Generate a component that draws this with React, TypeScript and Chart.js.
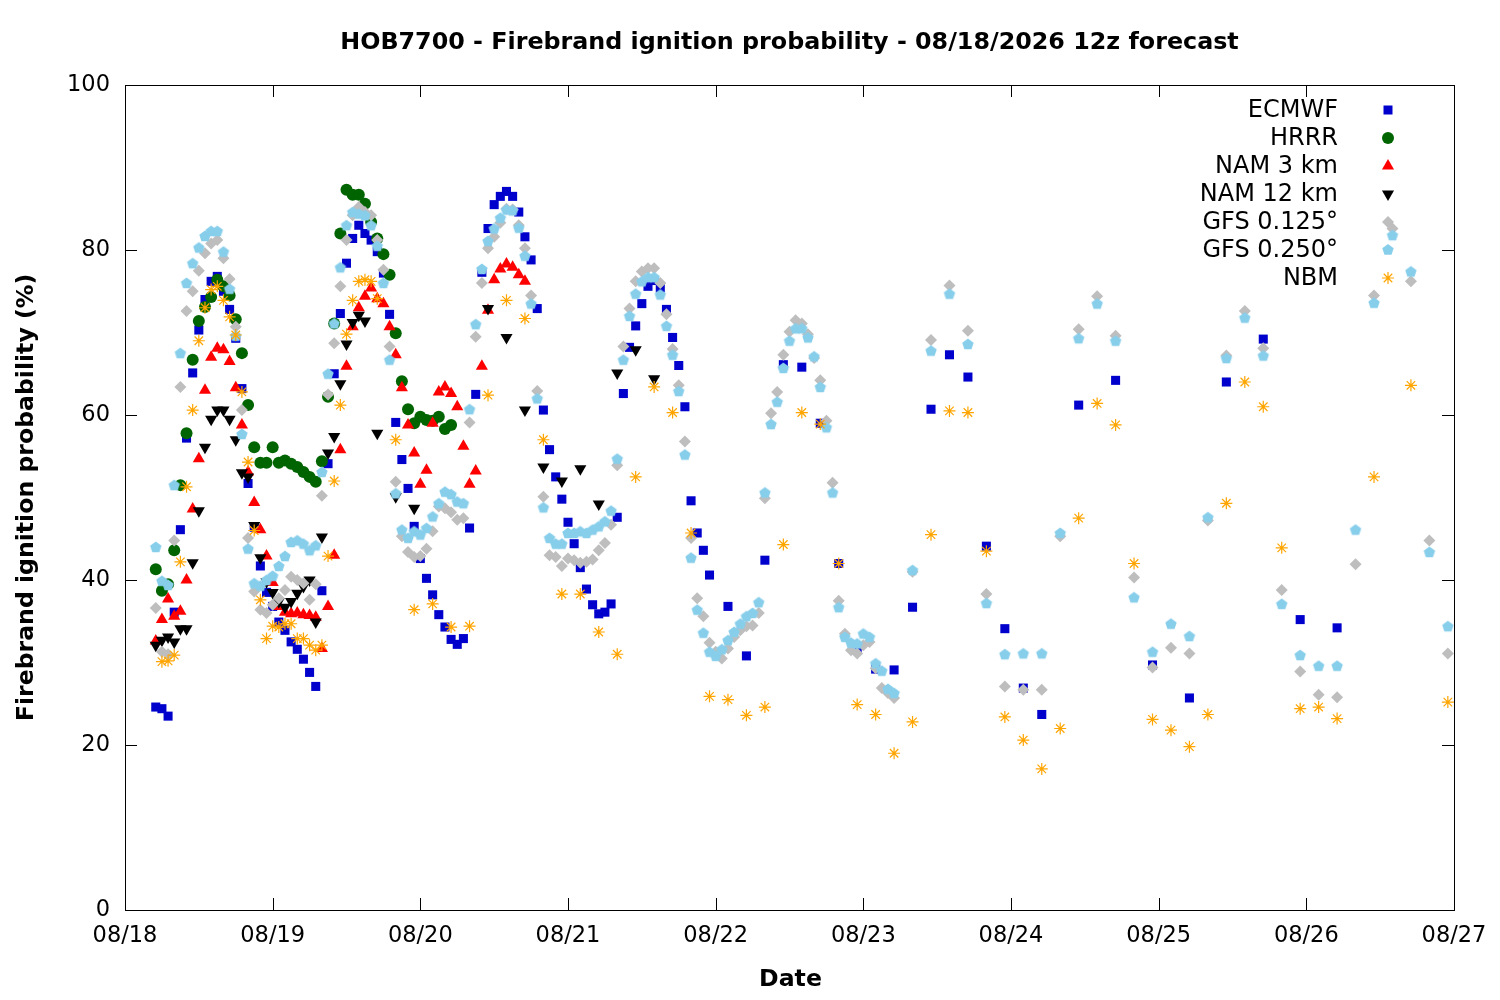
import { useEffect, useRef } from "react";
import Chart from "chart.js/auto";

const DAY_LABELS = ["08/18", "08/19", "08/20", "08/21", "08/22", "08/23", "08/24", "08/25", "08/26", "08/27"];
const Y_TICKS = [0, 20, 40, 60, 80, 100];

// hours since 08/18 00 local time
const ECMWF_HOURS = [
  5, 6, 7, 8, 9, 10, 11, 12, 13, 14, 15, 16, 17, 18, 19, 20, 21, 22, 23, 24,
  25, 26, 27, 28, 29, 30, 31, 32, 33, 34, 35, 36, 37, 38, 39, 40, 41, 42, 43, 44,
  45, 46, 47, 48, 49, 50, 51, 52, 53, 54, 55, 56, 57, 58, 59, 60, 61, 62, 63, 64,
  65, 66, 67, 68, 69, 70, 71, 72, 73, 74, 75, 76, 77, 78, 79, 80, 81, 82, 83, 84,
  85, 86, 87, 88, 89, 90, 91, 92, 93, 94, 95,
  98, 101, 104, 107, 110, 113, 116, 119, 122, 125, 128, 131, 134, 137, 140, 143, 146, 149,
  155, 161, 167, 173, 179, 185, 191, 197,
];
const ECMWF = [
  24.6, 24.4, 23.5, 36.1, 46.1, 57.2, 65.1, 70.3, 74.0, 76.2, 76.8, 75.0, 72.8, 69.3, 63.2, 51.7, 46.4, 41.7, 38.5, 36.8,
  34.9, 33.9, 32.5, 31.6, 30.4, 28.8, 27.1, 38.7, 54.1, 65.0, 72.3, 78.4, 81.4, 83.0, 82.0, 81.2, 79.8, 77.2, 72.2, 59.1,
  54.6, 51.1, 46.5, 42.6, 40.2, 38.2, 35.8, 34.3, 32.8, 32.2, 32.9, 46.3, 62.5, 77.3, 82.6, 85.5, 86.5, 87.1, 86.5, 84.6,
  81.6, 78.8, 72.9, 60.6, 55.8, 52.5, 49.8, 47.0, 44.4, 41.5, 38.9, 37.0, 35.9, 36.1, 37.1, 47.6, 62.6, 68.2, 70.8, 73.5,
  75.6, 76.3, 75.4, 72.8, 69.4, 66.0, 61.0, 49.6, 45.7, 43.6, 40.6,
  36.8, 30.8, 42.4, 66.1, 65.8, 59.0, 42.0, 31.6, 29.2, 29.1, 36.7, 60.7, 67.3, 64.6, 44.1, 34.1, 26.9, 23.7,
  61.2, 64.2, 29.7, 25.7, 64.0, 69.2, 35.2, 34.2,
];

const HRRR_HOURS = [
  5, 6, 7, 8, 9, 10, 11, 12, 13, 14, 15, 16, 17, 18, 19, 20, 21, 22, 23, 24,
  25, 26, 27, 28, 29, 30, 31, 32, 33, 34, 35, 36, 37, 38, 39, 40, 41, 42, 43, 44,
  45, 46, 47, 48, 49, 50, 51, 52, 53,
];
const HRRR = [
  41.3, 38.7, 39.5, 43.6, 51.5, 57.8, 66.7, 71.4, 73.1, 74.3, 76.4, 75.6, 74.5, 71.6, 67.5, 61.2, 56.1, 54.2, 54.2, 56.1,
  54.2, 54.5, 54.1, 53.7, 53.1, 52.5, 51.9, 54.4, 62.2, 71.1, 82.0, 87.3, 86.7, 86.7, 85.6, 83.4, 81.4, 79.5, 77.0, 69.9,
  64.1, 60.7, 59.0, 59.8, 59.4, 59.3, 59.8, 58.3, 58.8,
];

const NAM3_HOURS = [
  5, 6, 7, 8, 9, 10, 11, 12, 13, 14, 15, 16, 17, 18, 19, 20, 21, 22, 23, 24,
  25, 26, 27, 28, 29, 30, 31, 32, 33, 34, 35, 36, 37, 38, 39, 40, 41, 42, 43, 44,
  45, 46, 47, 48, 49, 50, 51, 52, 53, 54, 55, 56, 57, 58, 59, 60, 61, 62, 63, 64, 65,
];
const NAM3 = [
  32.6, 35.2, 37.7, 35.6, 36.2, 40.0, 48.6, 54.7, 63.0, 67.0, 68.1, 67.9, 66.5, 63.3, 58.8, 53.1, 49.4, 46.1, 42.9, 39.7,
  36.8, 36.1, 35.9, 36.0, 35.8, 35.7, 35.5, 31.7, 36.8, 43.0, 55.8, 65.9, 70.7, 73.0, 74.4, 75.4, 74.1, 73.5, 70.7, 67.3,
  63.3, 58.8, 55.4, 51.6, 53.3, 59.0, 62.8, 63.4, 62.6, 61.0, 56.2, 51.6, 53.2, 65.9, 72.7, 76.4, 77.7, 78.3, 77.9, 77.0, 76.2,
];

const NAM12_HOURS = [
  5, 6, 7, 8, 9, 10, 11, 12, 13, 14, 15, 16, 17, 18, 19, 20, 21, 22, 23, 24,
  25, 26, 27, 28, 29, 30, 31, 32, 33, 34, 35, 36, 37, 38, 39,
  41, 44, 47, 59, 62, 65, 68, 71, 74, 77, 80, 83, 86,
];
const NAM12 = [
  32.1, 32.7, 33.1, 32.5, 34.1, 34.1, 42.1, 48.4, 56.1, 59.5, 60.6, 60.6, 59.5, 57.0, 53.0, 52.5, 46.6, 42.7, 39.8, 38.5,
  37.4, 36.7, 37.4, 38.4, 39.2, 40.0, 34.9, 45.2, 55.4, 57.4, 63.8, 68.6, 71.2, 72.1, 71.4,
  57.8, 50.1, 48.7, 72.9, 69.4, 60.6, 53.7, 52.0, 53.5, 49.2, 65.1, 67.9, 64.4,
];

const GFS_HOURS = [
  5, 6, 7, 8, 9, 10, 11, 12, 13, 14, 15, 16, 17, 18, 19, 20, 21, 22, 23, 24,
  25, 26, 27, 28, 29, 30, 31, 32, 33, 34, 35, 36, 37, 38, 39, 40, 41, 42, 43, 44,
  45, 46, 47, 48, 49, 50, 51, 52, 53, 54, 55, 56, 57, 58, 59, 60, 61, 62, 63, 64,
  65, 66, 67, 68, 69, 70, 71, 72, 73, 74, 75, 76, 77, 78, 79, 80, 81, 82, 83, 84,
  85, 86, 87, 88, 89, 90, 91, 92, 93, 94, 95, 96, 97, 98, 99, 100, 101, 102, 103, 104,
  105, 106, 107, 108, 109, 110, 111, 112, 113, 114, 115, 116, 117, 118, 119, 120, 121, 122, 123, 124, 125,
  128, 131, 134, 137, 140, 143, 146, 149, 152, 155, 158, 161, 164, 167, 170,
  173, 176, 179, 182, 185, 188, 191, 194, 197, 200, 203, 206, 209, 212, 215,
];
const GFS_0125 = [
  36.6, 31.3, 31.0, 44.8, 63.4, 72.6, 75.0, 77.5, 79.6, 80.8, 81.2, 79.0, 76.5, 70.7, 60.6, 45.1, 38.6, 36.4, 36.0, 37.0,
  37.8, 38.8, 40.4, 40.0, 39.6, 37.6, 39.5, 50.2, 62.5, 68.7, 75.6, 81.2, 84.2, 85.2, 84.6, 84.2, 81.2, 77.6, 68.3, 51.9,
  45.3, 43.4, 42.8, 42.9, 43.8, 45.9, 48.9, 48.7, 48.2, 47.3, 47.5, 59.1, 69.5, 76.0, 80.2, 81.6, 83.3, 85.0, 84.9, 83.0,
  80.2, 74.5, 62.9, 50.1, 43.0, 42.8, 41.7, 42.6, 42.4, 42.1, 42.2, 42.5, 43.6, 44.5, 46.7, 53.9, 68.3, 72.9, 76.2, 77.4,
  77.8, 77.8, 76.0, 72.2, 68.0, 63.6, 56.8, 45.1, 37.8, 35.6, 32.4, 31.3, 30.5, 31.7, 33.1, 33.9, 34.4, 34.5, 36.0, 49.9,
  60.2, 62.8, 67.3, 70.1, 71.5, 71.1, 69.8, 66.9, 64.2, 59.3, 51.8, 37.5, 33.5, 31.5, 31.1, 32.1, 32.5, 29.3, 26.9, 26.3, 25.7,
  41.0, 69.1, 75.7, 70.2, 38.3, 27.1, 26.7, 26.7, 45.3, 70.4, 74.4, 69.6, 40.3, 29.4, 31.8,
  31.1, 47.2, 67.2, 72.6, 68.1, 38.8, 28.9, 26.1, 25.8, 41.9, 74.5, 82.6, 76.2, 44.8, 31.1,
];
const GFS_0250 = [
  44.0, 39.9, 39.4, 51.5, 67.5, 76.0, 78.4, 80.3, 81.7, 82.3, 82.3, 79.8, 75.3, 69.6, 57.7, 43.8, 39.6, 39.3, 40.0, 40.5,
  41.7, 42.9, 44.6, 44.8, 44.4, 43.6, 44.2, 53.1, 65.0, 71.1, 77.9, 83.0, 84.6, 84.4, 84.2, 83.0, 80.5, 76.0, 66.7, 50.5,
  46.1, 45.1, 45.9, 45.5, 46.3, 47.7, 49.3, 50.7, 50.4, 49.5, 49.3, 60.7, 71.0, 77.7, 81.1, 82.6, 83.9, 84.9, 84.8, 82.7,
  79.3, 73.5, 62.0, 48.8, 45.1, 44.4, 44.4, 45.7, 45.7, 45.9, 45.7, 46.1, 46.5, 47.1, 48.4, 54.7, 66.7, 72.0, 74.7, 76.2,
  76.7, 76.7, 74.6, 70.8, 67.3, 62.9, 55.2, 42.7, 36.4, 33.6, 31.3, 30.8, 31.6, 32.7, 33.7, 34.7, 35.6, 36.0, 37.3, 50.6,
  58.9, 61.6, 65.7, 69.0, 70.5, 70.5, 69.4, 67.1, 63.4, 58.5, 50.6, 36.7, 33.1, 32.4, 32.3, 33.5, 33.1, 29.9, 29.0, 26.8, 26.3,
  41.2, 67.8, 74.7, 68.6, 37.2, 31.0, 31.1, 31.1, 45.7, 69.3, 73.5, 69.0, 37.9, 31.3, 34.7,
  33.2, 47.6, 66.9, 71.8, 67.2, 37.1, 30.9, 29.6, 29.6, 46.1, 73.6, 81.8, 77.4, 43.4, 34.4,
];

const NBM_HOURS = [
  6, 7, 8, 9, 10, 11, 12, 13, 14, 15, 16, 17, 18, 19, 20, 21, 22, 23, 24, 25,
  26, 27, 28, 29, 30, 31, 32, 33, 34, 35, 36, 37, 38, 39, 40, 41,
  44, 47, 50, 53, 56, 59, 62, 65, 68, 71, 74, 77, 80, 83, 86, 89, 92, 95, 98, 101,
  104, 107, 110, 113, 116, 119, 122, 125, 128, 131, 134, 137, 140, 143, 146, 149, 152, 155, 158, 161,
  164, 167, 170, 173, 176, 179, 182, 185, 188, 191, 194, 197, 203, 209, 215,
];
const NBM = [
  30.1, 30.2, 30.9, 42.2, 51.3, 60.6, 69.0, 73.0, 75.2, 75.6, 73.9, 71.9, 69.7, 62.8, 54.3, 46.0, 37.6, 32.9, 34.4, 34.3,
  34.7, 34.7, 32.9, 32.9, 32.1, 31.5, 32.1, 42.9, 52.0, 61.2, 69.8, 73.9, 76.2, 76.4, 76.2, 74.1,
  57.0, 36.4, 37.1, 34.3, 34.4, 62.4, 73.9, 71.7, 57.0, 38.3, 38.3, 33.7, 31.0, 52.5, 63.4, 60.3, 45.7, 25.9, 25.5, 23.6,
  24.6, 44.3, 60.3, 58.9, 42.0, 24.9, 23.7, 19.0, 22.8, 45.5, 60.5, 60.3, 43.5, 23.4, 20.6, 17.1, 22.0, 47.5, 61.4, 58.8,
  42.0, 23.1, 21.8, 19.8, 23.7, 49.3, 64.0, 61.0, 43.9, 24.4, 24.6, 23.2, 52.5, 63.6, 25.2,
];

const FONT = "DejaVu Sans";

type Kind = "square" | "circle" | "up" | "down" | "diamond" | "pentagon" | "star";

const SERIES: { label: string; kind: Kind; color: string; hours: number[]; values: number[] }[] = [
  { label: "ECMWF", kind: "square", color: "#0000cd", hours: ECMWF_HOURS, values: ECMWF },
  { label: "HRRR", kind: "circle", color: "#006400", hours: HRRR_HOURS, values: HRRR },
  { label: "NAM 3 km", kind: "up", color: "#ff0000", hours: NAM3_HOURS, values: NAM3 },
  { label: "NAM 12 km", kind: "down", color: "#000000", hours: NAM12_HOURS, values: NAM12 },
  { label: "GFS 0.125°", kind: "diamond", color: "#bebebe", hours: GFS_HOURS, values: GFS_0125 },
  { label: "GFS 0.250°", kind: "pentagon", color: "#87ceeb", hours: GFS_HOURS, values: GFS_0250 },
  { label: "NBM", kind: "star", color: "#ffa500", hours: NBM_HOURS, values: NBM },
];

function polygon(ctx: CanvasRenderingContext2D, x: number, y: number, r: number, n: number, start: number) {
  ctx.beginPath();
  for (let i = 0; i < n; i++) {
    const a = start + (i * 2 * Math.PI) / n;
    const px = x + r * Math.cos(a);
    const py = y + r * Math.sin(a);
    if (i === 0) ctx.moveTo(px, py);
    else ctx.lineTo(px, py);
  }
  ctx.closePath();
}

function drawMarker(ctx: CanvasRenderingContext2D, kind: Kind, color: string, x: number, y: number) {
  ctx.save();
  ctx.fillStyle = color;
  ctx.strokeStyle = color;
  if (kind === "square") {
    ctx.fillRect(x - 4.5, y - 4.5, 9, 9);
  } else if (kind === "circle") {
    ctx.beginPath();
    ctx.arc(x, y, 6, 0, Math.PI * 2);
    ctx.fill();
  } else if (kind === "up") {
    polygon(ctx, x, y, 7, 3, -Math.PI / 2);
    ctx.fill();
  } else if (kind === "down") {
    polygon(ctx, x, y, 7, 3, Math.PI / 2);
    ctx.fill();
  } else if (kind === "diamond") {
    polygon(ctx, x, y, 6, 4, 0);
    ctx.fill();
  } else if (kind === "pentagon") {
    polygon(ctx, x, y, 6, 5, -Math.PI / 2);
    ctx.fill();
  } else {
    ctx.lineWidth = 1.2;
    ctx.beginPath();
    for (let i = 0; i < 4; i++) {
      const a = (i * Math.PI) / 4;
      ctx.moveTo(x - 6 * Math.cos(a), y - 6 * Math.sin(a));
      ctx.lineTo(x + 6 * Math.cos(a), y + 6 * Math.sin(a));
    }
    ctx.stroke();
  }
  ctx.restore();
}

function pentagonImage(color: string) {
  const c = document.createElement("canvas");
  c.width = 14;
  c.height = 14;
  const ctx = c.getContext("2d")!;
  ctx.fillStyle = color;
  polygon(ctx, 7, 7.5, 6, 5, -Math.PI / 2);
  ctx.fill();
  return c;
}

const framePlugin = {
  id: "frame",
  afterDraw(chart: any) {
    const { ctx, chartArea: a, scales } = chart;
    ctx.save();
    ctx.strokeStyle = "#000";
    ctx.lineWidth = 1;
    ctx.strokeRect(Math.round(a.left) + 0.5, Math.round(a.top) + 0.5, Math.round(a.right - a.left), Math.round(a.bottom - a.top));

    ctx.beginPath();
    DAY_LABELS.forEach((_, i) => {
      const px = Math.round(scales.x.getPixelForValue(i * 24)) + 0.5;
      ctx.moveTo(px, a.bottom);
      ctx.lineTo(px, a.bottom - 12);
      ctx.moveTo(px, a.top);
      ctx.lineTo(px, a.top + 12);
    });
    Y_TICKS.forEach((v) => {
      const py = Math.round(scales.y.getPixelForValue(v)) + 0.5;
      ctx.moveTo(a.left, py);
      ctx.lineTo(a.left + 12, py);
      ctx.moveTo(a.right, py);
      ctx.lineTo(a.right - 12, py);
    });
    ctx.stroke();

    // title
    ctx.fillStyle = "#000";
    ctx.textAlign = "center";
    ctx.textBaseline = "middle";
    ctx.font = `bold 23.8px ${FONT}`;
    const cx = (a.left + a.right) / 2;
    ctx.fillText("HOB7700 - Firebrand ignition probability - 08/18/2026 12z forecast", cx, 43);

    // axis titles
    ctx.font = `bold 23.6px ${FONT}`;
    ctx.fillText("Date", cx + 1, 980);
    ctx.save();
    ctx.translate(27, (a.top + a.bottom) / 2);
    ctx.rotate(-Math.PI / 2);
    ctx.fillText("Firebrand ignition probability (%)", 0, 0);
    ctx.restore();

    // legend
    ctx.font = `24px ${FONT}`;
    ctx.textAlign = "right";
    SERIES.forEach((s, i) => {
      const y = 110 + i * 28;
      ctx.fillStyle = "#000";
      ctx.fillText(s.label, 1338, y + 1);
      drawMarker(ctx, s.kind, s.color, 1388, y);
    });
    ctx.restore();
  },
};

export default function App() {
  const canvasRef = useRef<HTMLCanvasElement>(null);
  const chartRef = useRef<any>(null);

  useEffect(() => {
    document.body.style.margin = "0";
    if (!canvasRef.current) return;
    if (chartRef.current) chartRef.current.destroy();

    const pointStyles: Record<Kind, any> = {
      square: "rect",
      circle: "circle",
      up: "triangle",
      down: "triangle",
      diamond: "rectRot",
      pentagon: pentagonImage("#87ceeb"),
      star: "star",
    };
    const radii: Record<Kind, number> = { square: 6.4, circle: 6, up: 7, down: 7, diamond: 6, pentagon: 6, star: 6 };

    const datasets = SERIES.map((s, i) => ({
      label: s.label,
      data: s.hours.map((h, j) => ({ x: h, y: s.values[j] })),
      pointStyle: pointStyles[s.kind],
      pointRadius: radii[s.kind],
      pointRotation: s.kind === "down" ? 180 : 0,
      backgroundColor: s.color,
      borderColor: s.color,
      pointBorderWidth: s.kind === "star" ? 1.2 : 0,
      showLine: false,
      order: SERIES.length - 1 - i,
    }));

    const tickFont = { family: FONT, size: 22.5 };

    chartRef.current = new Chart(canvasRef.current, {
      type: "scatter",
      data: { datasets },
      options: {
        animation: false,
        responsive: false,
        events: [],
        layout: { padding: { top: 85, right: 46, left: 0, bottom: 0 } },
        plugins: {
          legend: { display: false },
          title: { display: false },
          tooltip: { enabled: false },
        },
        scales: {
          x: {
            type: "linear",
            min: 0,
            max: 216,
            ticks: {
              stepSize: 24,
              autoSkip: false,
              maxRotation: 0,
              color: "#000",
              font: tickFont,
              padding: 13,
              callback: (v: any) => DAY_LABELS[Math.round(v / 24)] ?? "",
            },
            grid: { display: false, drawTicks: false },
            border: { display: false },
            afterFit: (s: any) => {
              s.height = 90;
            },
          },
          y: {
            min: 0,
            max: 100,
            ticks: { stepSize: 20, color: "#000", font: tickFont, padding: 15 },
            grid: { display: false, drawTicks: false },
            border: { display: false },
            afterFit: (s: any) => {
              s.width = 125;
            },
          },
        },
      },
      plugins: [framePlugin],
    } as any);

    return () => chartRef.current?.destroy();
  }, []);

  return (
    <div style={{ width: 1500, height: 1000, background: "#fff" }}>
      <canvas ref={canvasRef} width={1500} height={1000} style={{ display: "block", width: 1500, height: 1000 }} />
    </div>
  );
}
